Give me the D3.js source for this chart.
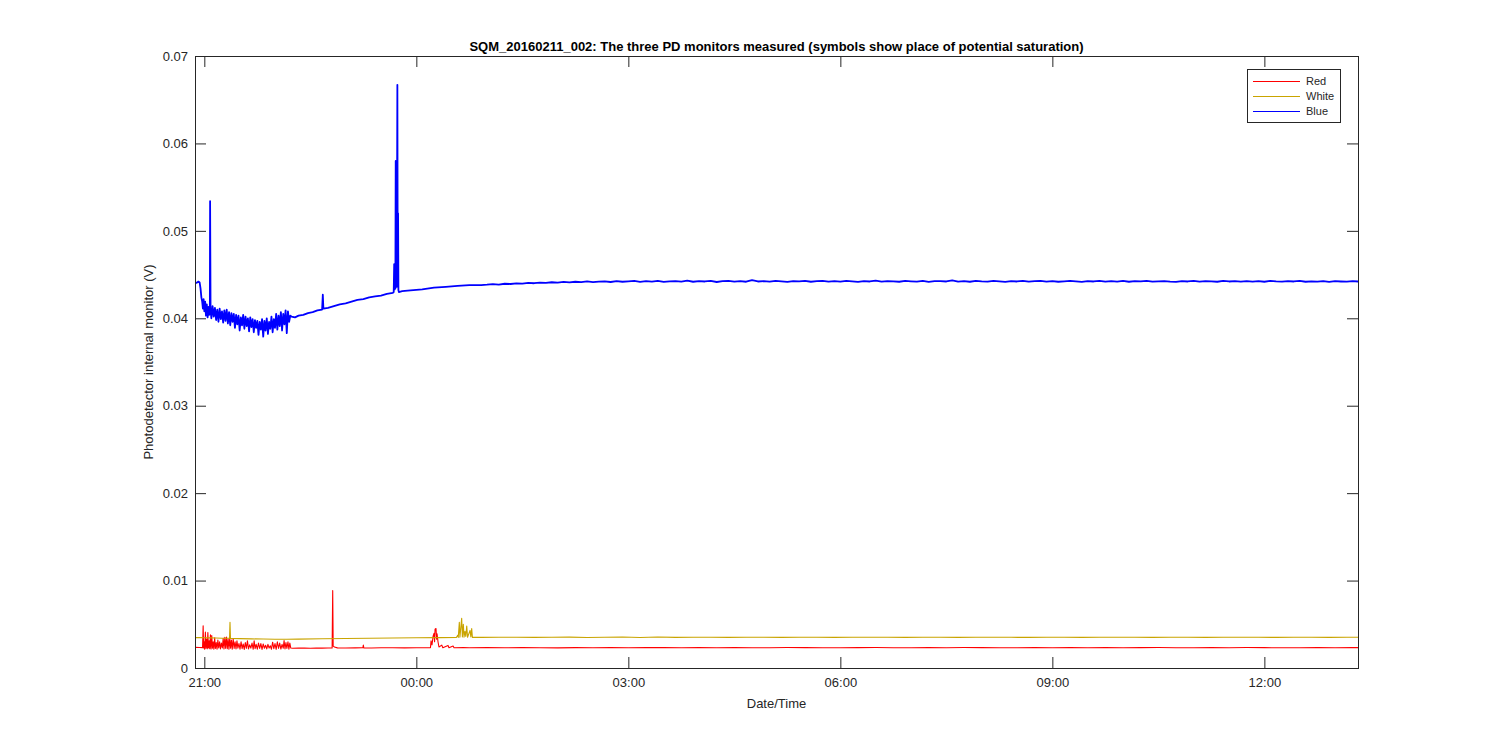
<!DOCTYPE html>
<html>
<head>
<meta charset="utf-8">
<script src="https://cdn.jsdelivr.net/npm/d3@7"></script>
<style>
  body { margin: 0; background: #fff; }
  text { font-family: "Liberation Sans", Arial, Helvetica, sans-serif; }
</style>
</head>
<body>
<div id="chart"></div>
<script>
// time values are minutes after 21:00 on 2016-02-11
const startTime = new Date(2016, 1, 11, 21, 0, 0);
const domainStart = new Date(2016, 1, 11, 20, 52, 5);
const domainEnd = new Date(2016, 1, 12, 13, 19, 30);

const seriesNames = ["Red", "White", "Blue"];
const seriesColors = ["#ff0000", "#c9a400", "#0000ff"];

const yTicks = [0, 0.01, 0.02, 0.03, 0.04, 0.05, 0.06, 0.07];
const yTickLabels = ["0", "0.01", "0.02", "0.03", "0.04", "0.05", "0.06", "0.07"];
const xTickLabels = ["21:00", "00:00", "03:00", "06:00", "09:00", "12:00"];

const blueTimes = [-8, -6.5, -5, -4, -3.2, -2.5, -1.8, -1.2, -0.6, 0, 0.7, 1.4, 2.1, 2.8, 3.5, 4.2, 4.7, 4.9, 5.3,
  6, 7, 8, 9, 10, 11, 12, 13, 14, 15, 16, 17, 18, 19, 20, 21, 22, 23, 24, 25, 26, 27, 28, 29, 30,
  31, 32, 33, 34, 35, 36, 37, 38, 39, 40, 41, 42, 43, 44, 45, 46, 47, 48, 49, 50, 51, 52, 53, 54, 55,
  56, 57, 58, 59, 60, 61, 62, 63, 64, 65, 66, 67, 68, 69, 70, 71, 72, 73, 74,
  77, 80, 84, 88, 92, 96, 100, 100.6, 101.1, 105, 110, 115, 120, 125, 130, 135, 140, 145, 150, 155, 160,
  160.8, 161.2, 161.5, 161.9, 162.2, 162.5, 162.8, 163.1, 163.4, 163.9, 164.2, 164.5, 164.8, 165.2,
  168, 175, 185, 195, 205, 215, 225, 235];
const blueValues = [0.0441, 0.04405, 0.0442, 0.0441, 0.0434, 0.0424, 0.0419, 0.0411, 0.0422, 0.0408, 0.0419, 0.0403, 0.0416, 0.0401, 0.0413, 0.0404, 0.0412, 0.0534, 0.0409,
  0.0400, 0.0414, 0.0402, 0.0412, 0.0398, 0.0410, 0.0396, 0.0411, 0.0399, 0.0408, 0.0395, 0.0409, 0.0397, 0.0410, 0.0394, 0.0407, 0.0392, 0.0406, 0.0396, 0.0405, 0.0389, 0.0404, 0.0393, 0.0403, 0.0386,
  0.0401, 0.0392, 0.0404, 0.0388, 0.0402, 0.0391, 0.0400, 0.0385, 0.0401, 0.0390, 0.0399, 0.0384, 0.0398, 0.0389, 0.0397, 0.0381, 0.0396, 0.0387, 0.0399, 0.0379, 0.0397, 0.0386, 0.0400, 0.0382, 0.0396,
  0.0388, 0.0402, 0.0384, 0.0399, 0.0389, 0.0405, 0.0387, 0.0403, 0.0391, 0.0407, 0.0386, 0.0405, 0.0393, 0.0409, 0.0383, 0.0408, 0.0396, 0.0403, 0.0402,
  0.0401, 0.0403, 0.0404, 0.0406, 0.0407, 0.0409, 0.0410, 0.0427, 0.0411, 0.0412, 0.0414, 0.0416, 0.0417, 0.0419, 0.0421, 0.0422, 0.0424, 0.0425, 0.0426, 0.0428, 0.0429,
  0.0430, 0.0462, 0.0433, 0.0458, 0.0434, 0.0580, 0.0440, 0.0560, 0.0436, 0.0667, 0.0438, 0.0520, 0.0432, 0.0430,
  0.0431, 0.0432, 0.0433, 0.0435, 0.0436, 0.0437, 0.0438, 0.0438];
// blue after 240 min, one reading every 5 min
const blueTailStart = 240, blueTailStep = 5;
const blueTail = [
  0.04384, 0.04390, 0.04386, 0.04395, 0.04392, 0.04400, 0.04397, 0.04405, 0.04401, 0.04408,
  0.04405, 0.04412, 0.04408, 0.04416, 0.04410, 0.04418, 0.04413, 0.04421, 0.04414, 0.04419,
  0.04423, 0.04415, 0.04425, 0.04418, 0.04422, 0.04427, 0.04417, 0.04424, 0.04420, 0.04428,
  0.04416, 0.04423, 0.04426, 0.04419, 0.04430, 0.04418, 0.04425, 0.04421, 0.04427, 0.04415,
  0.04424, 0.04429, 0.04420, 0.04426, 0.04418, 0.04437, 0.04421, 0.04425, 0.04419, 0.04428,
  0.04422, 0.04417, 0.04426, 0.04423, 0.04429, 0.04418, 0.04424, 0.04427, 0.04420, 0.04425,
  0.04419, 0.04428, 0.04422, 0.04416, 0.04425, 0.04421, 0.04430, 0.04419, 0.04426, 0.04422,
  0.04418, 0.04427, 0.04423, 0.04420, 0.04429, 0.04417, 0.04424, 0.04426, 0.04421, 0.04434,
  0.04420, 0.04425, 0.04418, 0.04427, 0.04422, 0.04419, 0.04428, 0.04423, 0.04417, 0.04426,
  0.04421, 0.04429, 0.04419, 0.04424, 0.04427, 0.04420, 0.04425, 0.04418, 0.04423, 0.04428,
  0.04422, 0.04417, 0.04426, 0.04421, 0.04429, 0.04419, 0.04424, 0.04420, 0.04427, 0.04418,
  0.04425, 0.04422, 0.04428, 0.04419, 0.04423, 0.04426, 0.04420, 0.04417, 0.04425, 0.04421,
  0.04428, 0.04419, 0.04424, 0.04422, 0.04418, 0.04427, 0.04421, 0.04425, 0.04419, 0.04426,
  0.04420, 0.04424, 0.04418, 0.04427, 0.04422, 0.04419, 0.04425, 0.04421, 0.04428, 0.04418,
  0.04423, 0.04420, 0.04426, 0.04417, 0.04424, 0.04421, 0.04419, 0.04425, 0.04420];

const redTimes = [-8, -4, -1.5, -1.0, -0.6, -0.2, 0.3, 0.9, 1.4, 2.0, 2.5, 3.0, 3.5, 4.1, 4.6, 5.2, 5.7, 6.3, 6.9,
  7.5, 8.1, 8.8, 9.4, 10.1, 10.8, 11.5, 12.2, 13.0, 13.7, 14.5, 15.3, 16.0, 16.7, 17.4, 18.1, 18.8, 19.5,
  20.2, 20.9, 21.6, 22.3, 23.0, 23.7, 24.5, 25.3, 26.1, 26.9, 27.7, 28.5, 29.4, 30.3, 31.2, 32.1, 33.0,
  33.9, 34.8, 35.7, 36.6, 37.5, 38.5, 39.5, 40.5, 41.5, 42.3, 43.1, 44, 45, 46, 47, 48, 49, 50, 51, 52,
  53, 54, 55, 56, 57, 58, 59, 60, 61, 62, 63, 64, 65, 66, 67, 67.7, 68.5, 69.3, 70.1, 71.0, 71.8, 72.6, 73.4,
  75, 80, 85, 90, 95, 100, 105, 108.5, 109.0, 109.4, 110.5, 113, 120, 128, 134.6, 135.0, 135.4, 142, 150,
  160, 170, 180, 188, 192.0, 192.5, 193.3, 194.2, 195.0, 195.5, 195.9, 196.7, 197.2, 197.6, 198.4, 199.2,
  201.6, 202.5, 206.9, 207.7, 211.2, 212.0, 220];
const redValues = [0.00236, 0.00235, 0.00233, 0.00484, 0.00228, 0.00300, 0.00215, 0.00410, 0.00225, 0.00330, 0.00220, 0.00405, 0.00230, 0.00310, 0.00222, 0.00380, 0.00218, 0.00372, 0.00226,
  0.00300, 0.00215, 0.00345, 0.00224, 0.00290, 0.00214, 0.00320, 0.00228, 0.00300, 0.00219, 0.00285, 0.00230, 0.00340, 0.00217, 0.00350, 0.00225, 0.00355, 0.00222,
  0.00330, 0.00216, 0.00345, 0.00226, 0.00320, 0.00214, 0.00335, 0.00224, 0.00300, 0.00218, 0.00310, 0.00227, 0.00280, 0.00215, 0.00300, 0.00222, 0.00275,
  0.00213, 0.00290, 0.00225, 0.00310, 0.00218, 0.00265, 0.00227, 0.00285, 0.00214, 0.00310, 0.00222, 0.00270, 0.00216, 0.00285, 0.00224, 0.00280, 0.00213, 0.00275, 0.00226, 0.00260,
  0.00219, 0.00270, 0.00228, 0.00255, 0.00215, 0.00295, 0.00222, 0.00280, 0.00214, 0.00300, 0.00225, 0.00285, 0.00217, 0.00270, 0.00226, 0.00315, 0.00218, 0.00290, 0.00223, 0.00300, 0.00215, 0.00285, 0.00228,
  0.00226, 0.00227, 0.00229, 0.00226, 0.00228, 0.00227, 0.00229, 0.00230, 0.00885, 0.00250, 0.00240, 0.00230, 0.00228, 0.00230, 0.00231, 0.00262, 0.00230, 0.00229, 0.00231,
  0.00232, 0.00230, 0.00231, 0.00232, 0.00233, 0.00310, 0.00265, 0.00360, 0.00397, 0.00300, 0.00443, 0.00452, 0.00330, 0.00390, 0.00300, 0.00240,
  0.00262, 0.00232, 0.00258, 0.00232, 0.00252, 0.00232, 0.00233];
const redTailStart = 225, redTailStep = 15;
const redTail = [
  0.00232, 0.00233, 0.00231, 0.00234, 0.00232, 0.00230, 0.00233, 0.00232, 0.00234, 0.00231,
  0.00233, 0.00235, 0.00231, 0.00234, 0.00232, 0.00233, 0.00231, 0.00232, 0.00234, 0.00233,
  0.00231, 0.00232, 0.00233, 0.00234, 0.00232, 0.00231, 0.00233, 0.00232, 0.00234, 0.00233,
  0.00231, 0.00232, 0.00233, 0.00232, 0.00234, 0.00231, 0.00233, 0.00232, 0.00233, 0.00234,
  0.00232, 0.00231, 0.00233, 0.00232, 0.00234, 0.00233, 0.00231, 0.00232, 0.00233, 0.00232,
  0.00233, 0.00232];

const whiteTimes = [-8, -4, 0, 5, 10, 15, 21.4, 21.8, 22.2, 30, 40, 50, 60, 70, 80, 100, 120, 140, 160, 180, 200, 214,
  215.1, 215.6, 216.5, 217.0, 218.5, 219.1, 219.9, 220.5, 221.3, 222.0, 222.8, 223.5, 225.6, 226.3, 227.0, 227.6, 232];
const whiteValues = [0.00347, 0.00348, 0.00346, 0.00345, 0.00343, 0.00341, 0.00340, 0.00523, 0.00339, 0.00336, 0.00333, 0.00331, 0.00329, 0.00329, 0.00330, 0.00334, 0.00338, 0.00341, 0.00344, 0.00346, 0.00348, 0.00349,
  0.00375, 0.00350, 0.00523, 0.00352, 0.00568, 0.00355, 0.00500, 0.00352, 0.00420, 0.00360, 0.00480, 0.00352, 0.00430, 0.00356, 0.00452, 0.00350, 0.00350];
const whiteTailStart = 235, whiteTailStep = 15;
const whiteTail = [
  0.00350, 0.00351, 0.00352, 0.00350, 0.00351, 0.00353, 0.00349, 0.00352, 0.00355, 0.00348,
  0.00354, 0.00350, 0.00352, 0.00351, 0.00350, 0.00352, 0.00351, 0.00350, 0.00352, 0.00351,
  0.00350, 0.00352, 0.00351, 0.00351, 0.00350, 0.00352, 0.00351, 0.00350, 0.00352, 0.00351,
  0.00351, 0.00350, 0.00352, 0.00351, 0.00350, 0.00352, 0.00351, 0.00351, 0.00350, 0.00352,
  0.00351, 0.00350, 0.00352, 0.00351, 0.00351, 0.00350, 0.00352, 0.00351, 0.00350, 0.00351,
  0.00352];

const W = 1500, H = 750;
const box = {left: 195, right: 1358, top: 56, bottom: 668};

const toDate = m => new Date(startTime.getTime() + m * 60000);
function buildSeries(times, values, tail, tailStart, tailStep) {
  const pts = times.map((t, i) => ({t: toDate(t), v: values[i]}));
  tail.forEach((v, i) => pts.push({t: toDate(tailStart + i * tailStep), v}));
  return pts;
}
const series = [
  buildSeries(redTimes, redValues, redTail, redTailStart, redTailStep),
  buildSeries(whiteTimes, whiteValues, whiteTail, whiteTailStart, whiteTailStep),
  buildSeries(blueTimes, blueValues, blueTail, blueTailStart, blueTailStep)
];

const svg = d3.select("#chart").append("svg")
  .attr("width", W).attr("height", H);

const x = d3.scaleTime().domain([domainStart, domainEnd]).range([box.left, box.right]);
const y = d3.scaleLinear().domain([0, 0.07]).range([box.bottom, box.top]);

const xTicks = d3.timeHour.every(3).range(domainStart, domainEnd);

svg.append("defs").append("clipPath").attr("id", "clip")
  .append("rect")
  .attr("x", box.left).attr("y", box.top)
  .attr("width", box.right - box.left).attr("height", box.bottom - box.top);

const line = d3.line().x(d => x(d.t)).y(d => y(d.v));

svg.append("g").attr("clip-path", "url(#clip)")
  .selectAll("path.series")
  .data(series)
  .enter()
  .append("path")
  .attr("class", "series")
  .attr("d", line)
  .attr("fill", "none")
  .attr("stroke", (d, i) => seriesColors[i])
  .attr("stroke-width", (d, i) => i === 2 ? 1.8 : 1.1)
  .attr("stroke-linejoin", "round");

const tickLen = 11;
function styleAxis(g) {
  g.select(".domain").remove();
  g.selectAll("line").attr("stroke", "#262626");
  g.selectAll("text")
   .style("font-size", "13px")
   .attr("fill", "#262626");
}

svg.append("g")
   .attr("transform", `translate(0,${box.bottom})`)
   .call(d3.axisBottom(x).tickValues(xTicks).tickSize(-tickLen).tickSizeOuter(0).tickPadding(10)
     .tickFormat((d, i) => xTickLabels[i]))
   .call(styleAxis);
svg.append("g")
   .attr("transform", `translate(0,${box.top})`)
   .call(d3.axisTop(x).tickValues(xTicks).tickSize(-tickLen).tickSizeOuter(0).tickFormat(""))
   .call(styleAxis);
svg.append("g")
   .attr("transform", `translate(${box.left},0)`)
   .call(d3.axisLeft(y).tickValues(yTicks).tickSize(-tickLen).tickSizeOuter(0).tickPadding(7)
     .tickFormat((d, i) => yTickLabels[i]))
   .call(styleAxis);
svg.append("g")
   .attr("transform", `translate(${box.right},0)`)
   .call(d3.axisRight(y).tickValues(yTicks).tickSize(-tickLen).tickSizeOuter(0).tickFormat(""))
   .call(styleAxis);

svg.append("rect")
   .attr("x", box.left + 0.5).attr("y", box.top + 0.5)
   .attr("width", box.right - box.left).attr("height", box.bottom - box.top)
   .attr("fill", "none")
   .attr("stroke", "#262626");

svg.append("text")
   .attr("x", (box.left + box.right) / 2)
   .attr("y", 51)
   .attr("text-anchor", "middle")
   .style("font-size", "13px")
   .style("font-weight", "bold")
   .text("SQM_20160211_002: The three PD monitors measured (symbols show place of potential saturation)");

svg.append("text")
   .attr("x", (box.left + box.right) / 2)
   .attr("y", 708)
   .attr("text-anchor", "middle")
   .style("font-size", "13px")
   .attr("fill", "#262626")
   .text("Date/Time");

svg.append("text")
   .attr("transform", `translate(153,${(box.top + box.bottom) / 2}) rotate(-90)`)
   .attr("text-anchor", "middle")
   .style("font-size", "13px")
   .attr("fill", "#262626")
   .text("Photodetector internal monitor (V)");

// legend
const legend = svg.append("g").attr("transform", "translate(1247,69)");
legend.append("rect")
   .attr("x", 0.5).attr("y", 0.5)
   .attr("width", 93).attr("height", 53)
   .attr("fill", "#fff")
   .attr("stroke", "#262626");
const rows = legend.selectAll("g.row")
   .data(seriesNames)
   .enter()
   .append("g")
   .attr("class", "row")
   .attr("transform", (d, i) => `translate(0,${12.5 + i * 15})`);
rows.append("line")
   .attr("x1", 6).attr("x2", 53)
   .attr("stroke", (d, i) => seriesColors[i])
   .attr("stroke-width", 1);
rows.append("text")
   .attr("x", 59)
   .attr("dy", "0.35em")
   .style("font-size", "11px")
   .attr("fill", "#262626")
   .text(d => d);
</script>
</body>
</html>
